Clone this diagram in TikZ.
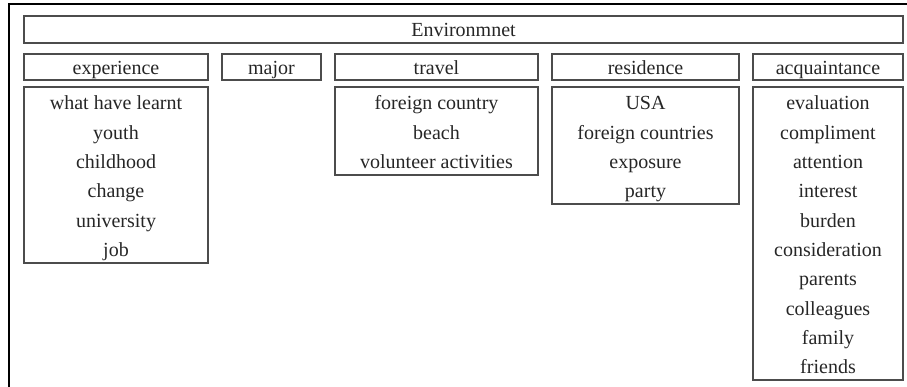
\documentclass[tikz,border=0pt]{standalone}
\usepackage{fontspec}
\setmainfont{Liberation Serif}
\begin{document}
\begin{tikzpicture}[x=1pt,y=-1pt,
  box/.style={draw=black!70, line width=1.3pt, inner sep=0pt},
  lbl/.style={inner sep=0pt, anchor=base, font=\fontsize{20}{24}\selectfont, text=black!85},
  frame/.style={draw=black, line width=1.4pt}]
\useasboundingbox (0,0) rectangle (907,387);
\draw[frame] (9,387) -- (9,4) -- (907,4);
% boxes
\node[box, minimum width=879pt, minimum height=27pt] (env) at (463.5,29.5) {};
\node[box, minimum width=184pt, minimum height=26pt] (exph) at (116,67) {};
\node[box, minimum width=99pt, minimum height=26pt] (major) at (271.5,67) {};
\node[box, minimum width=203pt, minimum height=26pt] (travh) at (436.5,67) {};
\node[box, minimum width=187pt, minimum height=26pt] (resh) at (645.5,67) {};
\node[box, minimum width=150pt, minimum height=26pt] (acqh) at (828,67) {};
\node[box, minimum width=184pt, minimum height=176pt] (expc) at (116,175) {};
\node[box, minimum width=203pt, minimum height=88pt] (travc) at (436.5,131) {};
\node[box, minimum width=187pt, minimum height=117pt] (resc) at (645.5,145.5) {};
\node[box, minimum width=150pt, minimum height=293pt] (acqc) at (828,233.5) {};
% headings
\node[lbl] (envt) at (463.5,37) {Environmnet};
\node[lbl] (expht) at (116,75) {experience};
\node[lbl] (majort) at (271.5,75) {major};
\node[lbl] (travht) at (436.5,75) {travel};
\node[lbl] (resht) at (645.5,75) {residence};
\node[lbl] (acqht) at (828,75) {acquaintance};
% items
\foreach \t [count=\i] in {what have learnt,youth,childhood,change,university,job}
  \node[lbl] (exp\i) at (116,{110+29.3*(\i-1)}) {\t};
\foreach \t [count=\i] in {foreign country,beach,volunteer activities}
  \node[lbl] (trav\i) at (436.5,{110+29.3*(\i-1)}) {\t};
\foreach \t [count=\i] in {USA,foreign countries,exposure,party}
  \node[lbl] (res\i) at (645.5,{110+29.3*(\i-1)}) {\t};
\foreach \t [count=\i] in {evaluation,compliment,attention,interest,burden,consideration,parents,colleagues,family,friends}
  \node[lbl] (acq\i) at (828,{110+29.3*(\i-1)}) {\t};
\end{tikzpicture}
\end{document}
